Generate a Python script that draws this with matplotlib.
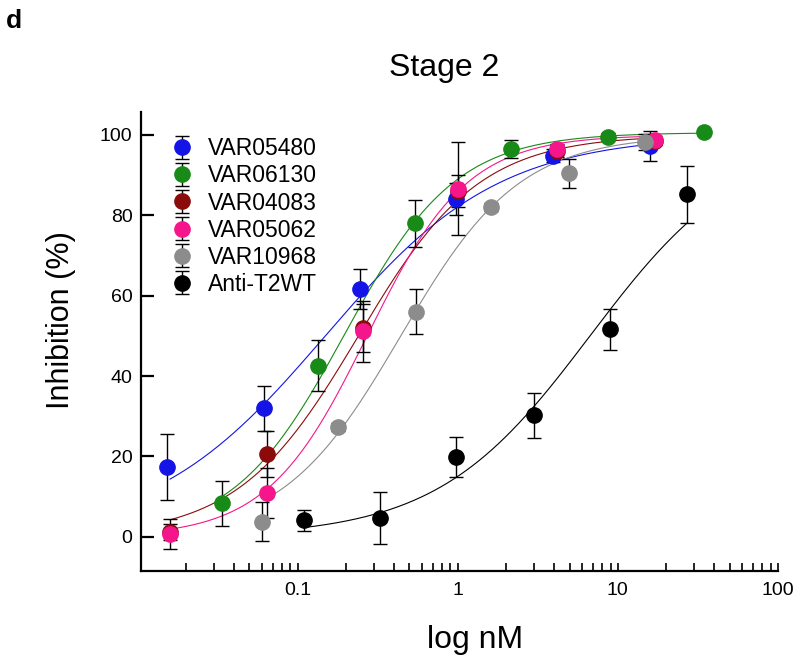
import numpy as np
import matplotlib
matplotlib.use('Agg')
import matplotlib.pyplot as plt

plt.rcParams['font.family'] = ['Liberation Sans', 'DejaVu Sans']

# nombres y colores de cada serie
nombres = ['VAR05480', 'VAR06130', 'VAR04083', 'VAR05062', 'VAR10968', 'Anti-T2WT']
colores = ['#1414e6', '#178a17', '#8b0b0b', '#f5168c', '#8c8c8c', '#000000']

# concentraciones (nM), inhibicion (%) y error
conc_05480 = [0.0152, 0.0613, 0.244, 0.97, 3.94, 15.8]
inh_05480 = [17.3, 32.0, 61.7, 84.0, 94.8, 97.3]
err_05480 = [8.2, 5.6, 5.0, 4.0, 1.6, 3.7]

conc_06130 = [0.0336, 0.135, 0.539, 2.14, 8.7, 34.6]
inh_06130 = [8.4, 42.6, 78.0, 96.5, 99.6, 100.7]
err_06130 = [5.6, 6.4, 5.8, 2.2, 0.8, 0.6]

conc_04083 = [0.016, 0.0647, 0.258, 1.0, 4.18, 17.0]
inh_04083 = [1.2, 20.6, 52.0, 86.0, 96.0, 98.6]
err_04083 = [2.0, 5.7, 6.0, 4.0, 1.5, 1.0]

conc_05062 = [0.016, 0.0647, 0.258, 1.0, 4.18, 17.0]
inh_05062 = [0.7, 11.0, 51.1, 86.6, 96.5, 98.8]
err_05062 = [3.7, 6.2, 7.5, 11.6, 1.2, 1.0]

conc_10968 = [0.06, 0.18, 0.546, 1.62, 4.94, 14.7]
inh_10968 = [3.8, 27.4, 56.0, 82.0, 90.5, 98.3]
err_10968 = [4.9, 1.0, 5.6, 1.0, 3.6, 2.0]

conc_t2wt = [0.109, 0.329, 0.97, 2.99, 8.9, 26.9]
inh_t2wt = [4.1, 4.6, 19.8, 30.2, 51.7, 85.2]
err_t2wt = [2.6, 6.5, 5.0, 5.5, 5.1, 7.1]

concs = [conc_05480, conc_06130, conc_04083, conc_05062, conc_10968, conc_t2wt]
inhs = [inh_05480, inh_06130, inh_04083, inh_05062, inh_10968, inh_t2wt]
errs = [err_05480, err_06130, err_04083, err_05062, err_10968, err_t2wt]

# parametros del ajuste (4 parametros) estimados de las curvas
fondo = [0, 0, 0, 0, 0, 0]
techo = [100, 100.6, 100, 100, 100, 100]
ec50 = [0.149, 0.196, 0.24, 0.272, 0.441, 6.7]
hill = [0.8, 1.25, 1.15, 1.39, 1.17, 0.91]
curva_desde = [0.016, 0.0336, 0.016, 0.016, 0.065, 0.109]
curva_hasta = [15.8, 34.6, 17.0, 17.0, 14.7, 26.9]

fig = plt.figure(figsize=(8, 6.59), dpi=100)
ax = fig.add_axes([0.176, 0.1335, 0.7965, 0.6965])

for i in range(len(nombres)):
    xs = np.logspace(np.log10(curva_desde[i]), np.log10(curva_hasta[i]), 300)
    ys = fondo[i] + (techo[i] - fondo[i]) / (1 + (ec50[i] / xs) ** hill[i])
    ax.plot(xs, ys, color=colores[i], lw=0.8, zorder=2)
    ax.errorbar(concs[i], inhs[i], yerr=errs[i], fmt='o', color=colores[i], ms=11,
                ecolor='black', elinewidth=1, capsize=5, capthick=1, label=nombres[i], zorder=3)

ax.set_xscale('log')
ax.set_xlim(0.0105, 100)
ax.set_ylim(-8.5, 105.7)
ax.set_yticks([0, 20, 40, 60, 80, 100])
ax.set_xticks([0.1, 1, 10, 100])
ax.set_xticklabels(['0.1', '1', '10', '100'])

ax.spines['top'].set_visible(False)
ax.spines['right'].set_visible(False)
ax.spines['left'].set_linewidth(1.6)
ax.spines['bottom'].set_linewidth(1.6)
ax.tick_params(axis='x', which='both', direction='in', length=6, width=1.2, labelsize=14, pad=8)
ax.tick_params(axis='y', which='major', direction='in', length=9, width=1.6, labelsize=14, pad=6)

leg = ax.legend(loc='upper left', bbox_to_anchor=(0.022, 0.98), frameon=False, fontsize=16.5,
                handlelength=1.0, handletextpad=0.6, labelspacing=0.18, borderaxespad=0.3)

fig.text(444.5 / 800, 1 - 76 / 659, 'Stage 2', ha='center', va='baseline', fontsize=23)
fig.text(475 / 800, 1 - 648 / 659, 'log nM', ha='center', va='baseline', fontsize=23)
fig.text(61 / 800, 1 - 320 / 659, 'Inhibition (%)', ha='center', va='center', rotation=90, fontsize=22)
fig.text(6 / 800, 1 - 28 / 659, 'd', ha='left', va='baseline', fontsize=19, fontweight='bold')

fig.savefig('out.png', dpi=100)
